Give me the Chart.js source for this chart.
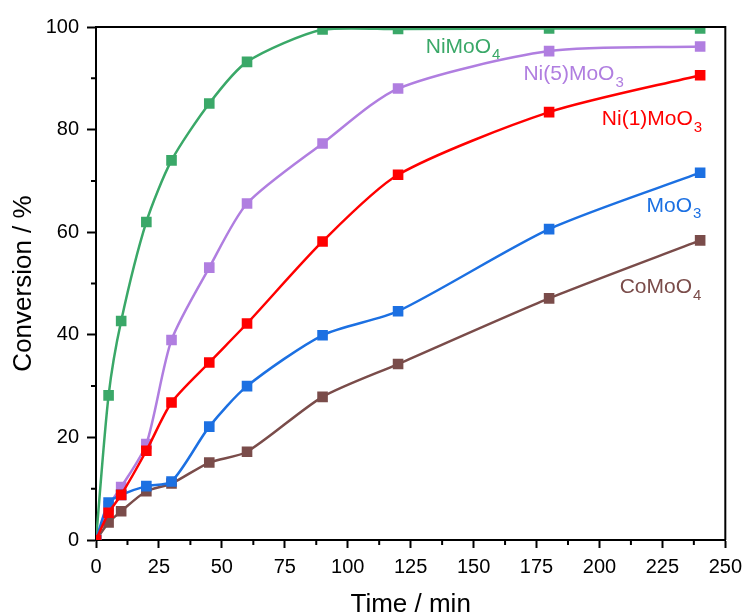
<!DOCTYPE html>
<html>
<head>
<meta charset="utf-8">
<script src="https://cdn.jsdelivr.net/npm/chart.js@4"></script>
<style>
    html, body { margin: 0; padding: 0; background: #fff; }
    #wrap { width: 749px; height: 615px; }
</style>
</head>
<body>
<div id="wrap"><canvas id="conversionChart"></canvas></div>
<script>
// Conversion vs time for the molybdate catalysts
const timeMin = [0, 5, 10, 20, 30, 45, 60, 90, 120, 180, 240];

const niMoO4 = [0, 28.2, 42.7, 62.0, 74.0, 85.1, 93.2, 99.5, 99.6, 99.7, 99.7];
const ni5MoO3 = [0, 6.6, 10.3, 18.7, 39.0, 53.1, 65.6, 77.3, 88.0, 95.3, 96.2];
const ni1MoO3 = [0, 5.3, 8.8, 17.4, 26.8, 34.6, 42.2, 58.2, 71.2, 83.4, 90.6];
const moO3 = [0, 7.3, 8.8, 10.5, 11.4, 22.1, 30.0, 39.9, 44.6, 60.6, 71.6];
const coMoO4 = [0, 3.4, 5.6, 9.5, 11.0, 15.1, 17.2, 27.9, 34.3, 47.1, 58.4];

const xTicks = [0, 25, 50, 75, 100, 125, 150, 175, 200, 225, 250];
const yTicks = [0, 20, 40, 60, 80, 100];

const GREEN = 'rgb(58, 168, 104)';
const PURPLE = 'rgb(176, 126, 224)';
const RED = 'rgb(255, 0, 0)';
const BLUE = 'rgb(28, 112, 226)';
const BROWN = 'rgb(122, 76, 74)';
const FONT = '"Liberation Sans", Arial, Helvetica, sans-serif';

function series(label, values, color, order) {
    return {
        label: label,
        data: values.map((v, i) => ({ x: timeMin[i], y: v })),
        borderColor: color,
        backgroundColor: color,
        borderWidth: 2.5,
        pointStyle: 'rect',
        pointRadius: 7.5,
        pointHoverRadius: 7.5,
        pointBorderWidth: 0,
        tension: 0.25,
        fill: false,
        order: order
    };
}

// in-plot series labels, placed in data units; parts = [text, subscript]
const seriesLabels = [
    { parts: ['NiMoO', '4'], color: GREEN, x: 131, y: 95.0, align: 'left' },
    { parts: ['Ni(5)MoO', '3'], color: PURPLE, x: 169.8, y: 89.6, align: 'left' },
    { parts: ['Ni(1)MoO', '3'], color: RED, x: 240.8, y: 80.8, align: 'right' },
    { parts: ['MoO', '3'], color: BLUE, x: 240.5, y: 64.0, align: 'right' },
    { parts: ['CoMoO', '4'], color: BROWN, x: 240.5, y: 48.1, align: 'right' }
];

const framePlugin = {
    id: 'frame',
    afterDraw(chart) {
        const { ctx, chartArea: a, scales } = chart;
        ctx.save();
        // top and right frame lines
        ctx.strokeStyle = '#000';
        ctx.lineWidth = 2;
        ctx.beginPath();
        ctx.moveTo(a.left, a.top);
        ctx.lineTo(a.right, a.top);
        ctx.lineTo(a.right, a.bottom);
        ctx.stroke();

        // minor ticks between the labelled ones
        ctx.beginPath();
        for (let i = 0; i < xTicks.length - 1; i++) {
            const px = scales.x.getPixelForValue((xTicks[i] + xTicks[i + 1]) / 2);
            ctx.moveTo(px, a.bottom);
            ctx.lineTo(px, a.bottom + 5);
        }
        for (let i = 0; i < yTicks.length - 1; i++) {
            const py = scales.y.getPixelForValue((yTicks[i] + yTicks[i + 1]) / 2);
            ctx.moveTo(a.left, py);
            ctx.lineTo(a.left - 5, py);
        }
        ctx.stroke();

        // series names with subscripts
        const mainFont = '21px ' + FONT;
        const subFont = '15px ' + FONT;
        ctx.textBaseline = 'alphabetic';
        ctx.textAlign = 'left';
        seriesLabels.forEach(l => {
            ctx.font = mainFont;
            const w1 = ctx.measureText(l.parts[0]).width;
            ctx.font = subFont;
            const w2 = ctx.measureText(l.parts[1]).width;
            let x = scales.x.getPixelForValue(l.x);
            const y = scales.y.getPixelForValue(l.y);
            if (l.align === 'right') x -= w1 + w2 + 1;
            ctx.fillStyle = l.color;
            ctx.font = mainFont;
            ctx.fillText(l.parts[0], x, y);
            ctx.font = subFont;
            ctx.fillText(l.parts[1], x + w1 + 1, y + 6.5);
        });
        ctx.restore();
    }
};

const ctx = document.getElementById('conversionChart');
new Chart(ctx.getContext('2d'), {
    type: 'line',
    data: {
        datasets: [
            series('NiMoO4', niMoO4, GREEN, 4),
            series('Ni(5)MoO3', ni5MoO3, PURPLE, 2),
            series('Ni(1)MoO3', ni1MoO3, RED, 0),
            series('MoO3', moO3, BLUE, 1),
            series('CoMoO4', coMoO4, BROWN, 3)
        ]
    },
    options: {
        responsive: true,
        maintainAspectRatio: false,
        animation: false,
        layout: { padding: { top: 27, right: 19, left: 0, bottom: 0 } },
        plugins: {
            legend: { display: false },
            tooltip: { enabled: false }
        },
        scales: {
            x: {
                type: 'linear',
                min: 0,
                max: 250,
                afterFit(scale) { scale.height = 75; },
                afterBuildTicks(scale) { scale.ticks = xTicks.map(v => ({ value: v })); },
                ticks: {
                    color: '#000',
                    font: { family: FONT, size: 20 },
                    padding: 7,
                    maxRotation: 0,
                    autoSkip: false
                },
                grid: {
                    drawOnChartArea: false,
                    drawTicks: true,
                    tickLength: 8,
                    tickWidth: 2,
                    tickColor: '#000'
                },
                border: { display: true, color: '#000', width: 2 },
                title: {
                    display: true,
                    text: 'Time / min',
                    color: '#000',
                    font: { family: FONT, size: 26, lineHeight: 1 },
                    padding: { top: 0, bottom: -3 }
                }
            },
            y: {
                min: 0,
                max: 100,
                afterFit(scale) { scale.width = 96; },
                afterBuildTicks(scale) { scale.ticks = yTicks.map(v => ({ value: v })); },
                ticks: {
                    color: '#000',
                    font: { family: FONT, size: 20 },
                    padding: 8,
                    autoSkip: false
                },
                grid: {
                    drawOnChartArea: false,
                    drawTicks: true,
                    tickLength: 9,
                    tickWidth: 2,
                    tickColor: '#000'
                },
                border: { display: true, color: '#000', width: 2 },
                title: {
                    display: true,
                    text: 'Conversion / %',
                    color: '#000',
                    font: { family: FONT, size: 26, lineHeight: 1 },
                    padding: { top: 11, bottom: 0 }
                }
            }
        }
    },
    plugins: [framePlugin]
});
</script>
</body>
</html>
